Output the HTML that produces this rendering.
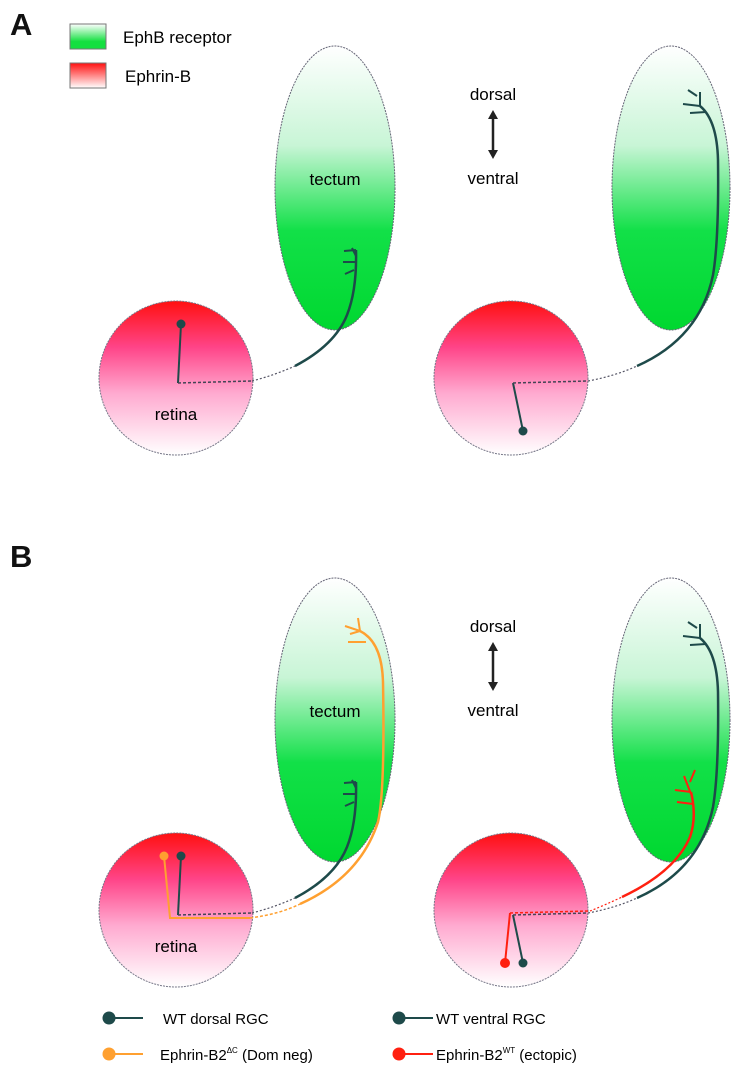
<!DOCTYPE html>
<html><head><meta charset="utf-8"><style>
html,body{margin:0;padding:0;background:#fff;}
svg{display:block;font-family:"Liberation Sans",Arial,sans-serif;}
</style></head><body>
<svg width="749" height="1076" viewBox="0 0 749 1076" xmlns="http://www.w3.org/2000/svg">
<defs>
<linearGradient id="gr" x1="0" y1="0" x2="0" y2="1">
<stop offset="0" stop-color="#ffffff"/><stop offset="0.35" stop-color="#c8f5d6"/><stop offset="0.65" stop-color="#12e048"/><stop offset="1" stop-color="#00d830"/></linearGradient>
<linearGradient id="rd" x1="0" y1="0" x2="0" y2="1">
<stop offset="0" stop-color="#ff1010"/><stop offset="0.3" stop-color="#ff4488"/><stop offset="0.6" stop-color="#ffaad0"/><stop offset="1" stop-color="#ffffff"/></linearGradient>
<linearGradient id="lg" x1="0" y1="0" x2="0" y2="1"><stop offset="0" stop-color="#fff"/><stop offset="0.7" stop-color="#14e040"/></linearGradient>
<linearGradient id="lr" x1="0" y1="0" x2="0" y2="1"><stop offset="0" stop-color="#ff1010"/><stop offset="1" stop-color="#fff"/></linearGradient>
<g id="base">
<ellipse cx="335" cy="188" rx="60" ry="142" fill="url(#gr)" stroke="#667" stroke-width="1" stroke-dasharray="2 1"/>
<circle cx="176" cy="378" r="77" fill="url(#rd)" stroke="#778" stroke-width="1" stroke-dasharray="2 1"/>
<ellipse cx="671" cy="188" rx="59" ry="142" fill="url(#gr)" stroke="#667" stroke-width="1" stroke-dasharray="2 1"/>
<circle cx="511" cy="378" r="77" fill="url(#rd)" stroke="#778" stroke-width="1" stroke-dasharray="2 1"/>
<text x="335" y="185" font-size="17" text-anchor="middle" fill="#000">tectum</text>
<text x="176" y="420" font-size="17" text-anchor="middle" fill="#000">retina</text>
<text x="493" y="100" font-size="17" text-anchor="middle" fill="#000">dorsal</text>
<text x="493" y="184" font-size="17" text-anchor="middle" fill="#000">ventral</text>
<line x1="493" y1="115" x2="493" y2="154" stroke="#222" stroke-width="2.5"/>
<path d="M488,119 L493,110 L498,119Z M488,150 L493,159 L498,150Z" fill="#222"/>
<circle cx="181" cy="324" r="4.5" fill="#1e4a4a"/>
<path d="M181,324 L178,383" stroke="#1e4a4a" stroke-width="2" fill="none"/>
<path d="M178,383 L252,381" stroke="#445" stroke-width="1.5" stroke-dasharray="3 2" fill="none"/>
<path d="M252,381 Q275,375 295,366" stroke="#556" stroke-width="1.2" stroke-dasharray="2 2" fill="none"/>
<path d="M295,366 Q335,345 347,315 Q357,290 356,250" stroke="#1e4a4a" stroke-width="2.5" fill="none"/>
<path d="M356,250 L344,251 M356,256 L352,248 M355,262 L343,262 M354,270 L345,274" stroke="#1e4a4a" stroke-width="2" fill="none"/>
<circle cx="523" cy="431" r="4.5" fill="#1e4a4a"/>
<path d="M523,431 L513,383" stroke="#1e4a4a" stroke-width="2" fill="none"/>
<path d="M513,383 L588,381" stroke="#445" stroke-width="1.5" stroke-dasharray="3 2" fill="none"/>
<path d="M588,381 Q615,376 637,366" stroke="#556" stroke-width="1.2" stroke-dasharray="2 2" fill="none"/>
<path d="M637,366 Q700,338 713,275 Q719,240 718,160 Q717,120 700,106" stroke="#1e4a4a" stroke-width="2.5" fill="none"/>
<path d="M700,106 L683,104 M697,96 L688,90 M700,106 L700,92 M706,112 L690,113" stroke="#1e4a4a" stroke-width="2" fill="none"/>
</g>
</defs>
<text x="10" y="35" font-size="31" font-weight="bold" fill="#111">A</text>
<text x="10" y="567" font-size="31" font-weight="bold" fill="#111">B</text>
<rect x="70" y="24" width="36" height="25" fill="url(#lg)" stroke="#777"/>
<rect x="70" y="63" width="36" height="25" fill="url(#lr)" stroke="#777"/>
<text x="123" y="43" font-size="17" fill="#000">EphB receptor</text>
<text x="125" y="82" font-size="17" fill="#000">Ephrin-B</text>
<use href="#base"/>
<g transform="translate(0,532)">
<use href="#base"/>
<circle cx="164" cy="324" r="4.5" fill="#ffa030"/>
<path d="M164,324 L170,386 L250,386" stroke="#ffa030" stroke-width="2" fill="none"/>
<path d="M250,386 Q280,382 300,372" stroke="#ffa030" stroke-width="1.5" stroke-dasharray="3 2" fill="none"/>
<path d="M300,372 Q360,345 378,290 Q385,260 383,150 Q382,110 360,99" stroke="#ffa030" stroke-width="2.5" fill="none"/>
<path d="M360,99 L345,94 M360,99 L358,86 M360,99 L350,102 M366,110 L348,110" stroke="#ffa030" stroke-width="2" fill="none"/>
<circle cx="505" cy="431" r="5" fill="#ff2010"/>
<path d="M505,431 L510,381" stroke="#ff2010" stroke-width="2" fill="none"/>
<path d="M510,381 L590,379" stroke="#ff2010" stroke-width="1.5" stroke-dasharray="3 2" fill="none"/>
<path d="M590,379 Q605,373 622,365" stroke="#ff2010" stroke-width="1.2" stroke-dasharray="2 2" fill="none"/>
<path d="M622,365 Q675,340 690,305 Q697,285 691,260" stroke="#ff2010" stroke-width="2.5" fill="none"/>
<path d="M691,260 L675,258 M690,250 L695,238 M691,262 L684,244 M693,272 L677,270" stroke="#ff2010" stroke-width="2" fill="none"/>
</g>
<circle cx="109" cy="1018" r="6.5" fill="#1e4a4a"/><line x1="109" y1="1018" x2="143" y2="1018" stroke="#1e4a4a" stroke-width="2"/>
<text x="163" y="1024" font-size="15" fill="#000">WT dorsal RGC</text>
<circle cx="109" cy="1054" r="6.5" fill="#ffa030"/><line x1="109" y1="1054" x2="143" y2="1054" stroke="#ffa030" stroke-width="2"/>
<text x="160" y="1060" font-size="15" fill="#000">Ephrin-B2<tspan font-size="8" dy="-7">ΔC</tspan><tspan dy="7"> (Dom neg)</tspan></text>
<circle cx="399" cy="1018" r="6.5" fill="#1e4a4a"/><line x1="399" y1="1018" x2="433" y2="1018" stroke="#1e4a4a" stroke-width="2"/>
<text x="436" y="1024" font-size="15" fill="#000">WT ventral RGC</text>
<circle cx="399" cy="1054" r="6.5" fill="#ff2010"/><line x1="399" y1="1054" x2="433" y2="1054" stroke="#ff2010" stroke-width="2"/>
<text x="436" y="1060" font-size="15" fill="#000">Ephrin-B2<tspan font-size="8" dy="-7">WT</tspan><tspan dy="7"> (ectopic)</tspan></text>
</svg>
</body></html>
